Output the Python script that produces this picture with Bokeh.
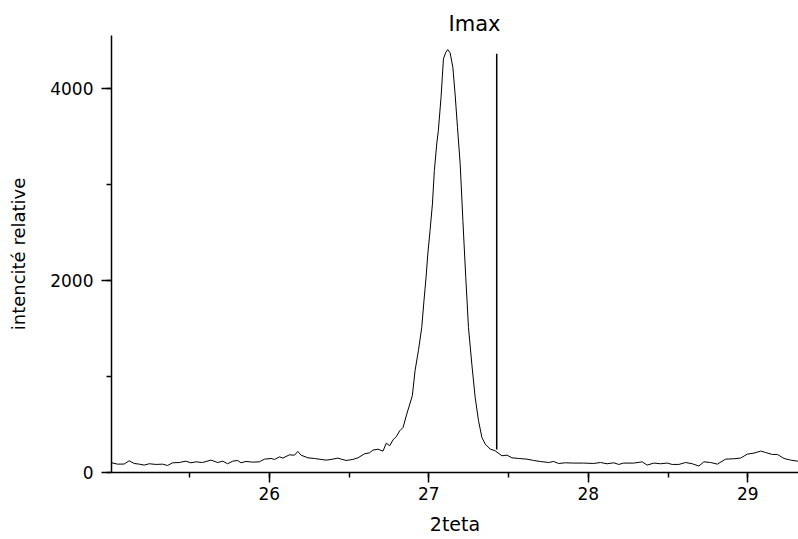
from bokeh.plotting import figure
from bokeh.models import Range1d, SingleIntervalTicker, ColumnDataSource
from bokeh.embed import file_html
from bokeh.resources import INLINE

theta = [25.006, 25.048, 25.090, 25.122, 25.153, 25.185, 25.216, 25.247, 25.289, 25.331,
         25.362, 25.394, 25.436, 25.477, 25.509, 25.540, 25.582, 25.634, 25.677, 25.708,
         25.739, 25.771, 25.802, 25.823, 25.854, 25.896, 25.938, 25.970, 26.011, 26.033,
         26.064, 26.085, 26.127, 26.158, 26.179, 26.200, 26.242, 26.284, 26.325, 26.357,
         26.388, 26.430, 26.451, 26.482, 26.524, 26.556, 26.598, 26.629, 26.650, 26.682,
         26.713, 26.734, 26.755, 26.776, 26.797, 26.818, 26.839, 26.862, 26.897, 26.914,
         26.935, 26.956, 26.970, 26.983, 26.994, 27.008, 27.023, 27.035, 27.050, 27.060,
         27.077, 27.092, 27.107, 27.119, 27.134, 27.151, 27.165, 27.180, 27.197, 27.214,
         27.232, 27.249, 27.270, 27.291, 27.312, 27.333, 27.354, 27.385, 27.416, 27.459,
         27.490, 27.521, 27.563, 27.616, 27.657, 27.699, 27.751, 27.783, 27.814, 27.856,
         27.908, 27.971, 28.034, 28.076, 28.118, 28.160, 28.191, 28.222, 28.285, 28.338,
         28.369, 28.411, 28.453, 28.495, 28.526, 28.568, 28.610, 28.652, 28.693, 28.725,
         28.767, 28.809, 28.861, 28.913, 28.955, 28.997, 29.039, 29.081, 29.112, 29.154,
         29.186, 29.227, 29.269, 29.311, 29.330]
intensity = [104, 87, 88, 122, 94, 87, 77, 91, 84, 87,
             73, 101, 104, 118, 101, 111, 104, 129, 104, 118,
             91, 118, 125, 101, 115, 108, 111, 139, 146, 136,
             163, 150, 184, 180, 219, 180, 153, 146, 136, 129,
             136, 150, 139, 125, 136, 153, 195, 205, 233, 243,
             222, 306, 278, 340, 375, 434, 469, 608, 799, 1059,
             1268, 1510, 1789, 2031, 2275, 2518, 2796, 3143, 3421, 3559,
             3906, 4306, 4375, 4403, 4369, 4219, 3941, 3594, 3213, 2622,
             2031, 1510, 1129, 781, 539, 365, 296, 244, 226, 174,
             181, 153, 146, 139, 125, 115, 104, 115, 94, 101,
             98, 98, 94, 104, 91, 101, 84, 98, 98, 111,
             77, 98, 91, 98, 84, 84, 104, 91, 67, 111,
             104, 87, 139, 143, 150, 191, 202, 223, 208, 188,
             188, 146, 129, 118, 112]

imax_x = [27.426]
imax_low = [240]
imax_high = [4360]
imax_label = "Imax"
x_title = "2teta"
y_title = "intencité relative"

FONT = "DejaVu Sans"

p = figure(width=798, height=539, output_backend="svg", toolbar_location=None,
           x_range=Range1d(25.011, 29.318), y_range=Range1d(0, 4550),
           min_border_left=111, min_border_right=0, min_border_top=35,
           min_border_bottom=67)
p.outline_line_color = None
p.grid.visible = False
p.background_fill_color = "white"
p.border_fill_color = "white"

src = ColumnDataSource(dict(x=theta, y=intensity))
p.line("x", "y", source=src, line_color="black", line_width=1)
p.segment(x0=imax_x, y0=imax_low, x1=imax_x, y1=imax_high,
          line_color="black", line_width=1.5)

p.title.text = imax_label
p.title.align = "left"
p.title.offset = 337
p.title.standoff = 0
p.title.text_font = FONT
p.title.text_font_size = "21px"
p.title.text_font_style = "normal"
p.title.text_color = "black"

p.xaxis.ticker = SingleIntervalTicker(interval=1, num_minor_ticks=2)
p.yaxis.ticker = SingleIntervalTicker(interval=2000, num_minor_ticks=2)

for ax in (p.xaxis[0], p.yaxis[0]):
    ax.axis_line_width = 1.5
    ax.axis_line_color = "black"
    ax.major_tick_line_width = 1.5
    ax.minor_tick_line_width = 1.5
    ax.major_tick_line_color = "black"
    ax.minor_tick_line_color = "black"
    ax.major_tick_in = 0
    ax.major_tick_out = 10
    ax.minor_tick_in = 0
    ax.minor_tick_out = 5
    ax.major_label_text_font = FONT
    ax.major_label_text_font_size = "17px"
    ax.major_label_text_color = "black"
    ax.axis_label_text_font = FONT
    ax.axis_label_text_font_style = "normal"
    ax.axis_label_text_color = "black"

p.xaxis.axis_label = x_title
p.yaxis.axis_label = y_title
p.xaxis.axis_label_text_font_size = "19px"
p.yaxis.axis_label_text_font_size = "18px"
p.xaxis.major_label_standoff = 4
p.xaxis.axis_label_standoff = 10
p.yaxis.major_label_standoff = 8
p.yaxis.axis_label_standoff = 18

open("out.html", "w").write(file_html(p, INLINE))
